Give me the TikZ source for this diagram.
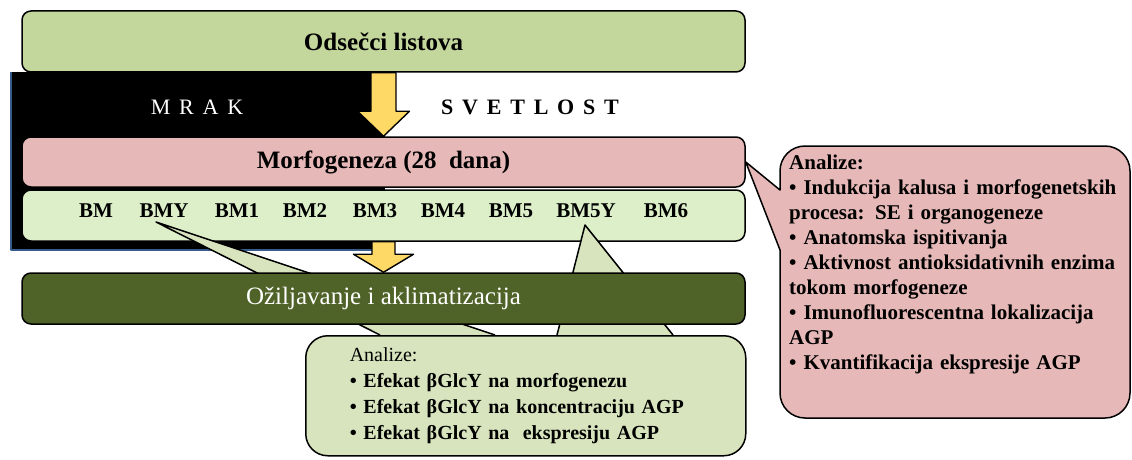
\documentclass[tikz,border=0pt]{standalone}
\usepackage{fontspec}
\setmainfont{Liberation Serif}
\newfontfamily\spacedfont[LetterSpace=40]{Liberation Serif}
\usetikzlibrary{calc,positioning}

\definecolor{leafgreen}{HTML}{C3D69B}
\definecolor{morfpink}{HTML}{E6B9B8}
\definecolor{bmgreen}{HTML}{DCEFC8}
\definecolor{rootgreen}{HTML}{4F6228}
\definecolor{callgreen}{HTML}{D7E4BD}
\definecolor{arrowyellow}{HTML}{FFD966}
\definecolor{darkblue}{HTML}{385D8A}

\tikzset{
  stagebox/.style={draw=black, line width=1.5pt, rounded corners=9pt, minimum width=723pt, inner sep=0pt},
  stagetext/.style={font=\bfseries\fontsize{25}{30}\selectfont},
  bmlabel/.style={font=\bfseries\fontsize{21}{25}\selectfont, inner sep=0pt},
  pointer/.style={draw=black, line width=1.5pt, fill=callgreen},
  bubble/.style={draw=black, line width=1.5pt, rounded corners=22pt},
  lighttext/.style={inner sep=0pt, font=\spacedfont\fontsize{22}{26}\selectfont},
  lightbold/.style={inner sep=0pt, font=\spacedfont\bfseries\fontsize{22}{26}\selectfont},
}

\begin{document}
\begin{tikzpicture}[x=1pt, y=1pt, line join=round]
  \useasboundingbox (0,0) rectangle (1132,459);

  % #1 is start
  % #2 is tip
  % #3 is half shaft, #4 is half head, #5 is head length
  \newcommand{\blockarrow}[5]{
    \path[draw=black, line width=1.4pt, fill=arrowyellow]
      ($(#1)+(-#3,0)$) -- ($(#2)+(-#3,#5)$) -- ($(#2)+(-#4,#5)$) -- (#2)
      -- ($(#2)+(#4,#5)$) -- ($(#2)+(#3,#5)$) -- ($(#1)+(#3,0)$) -- cycle;
  }

  % dark side
  \fill[black] (11,209) rectangle (385,387);
  \draw[darkblue, line width=2.5pt] (11,387) -- (11,209) -- (385,209);

  \node[stagebox, stagetext, fill=leafgreen, minimum height=61pt] (odsecci) at (383.5,417.5) {Odsečci listova};
  \node[stagebox, stagetext, fill=morfpink, minimum height=50pt] (morf) at (383.5,297) {Morfogeneza (28~ dana)};
  \node[stagebox, fill=bmgreen, minimum height=51pt] (bmrow) at (383.5,243.5) {};

  \node[bmlabel] (bm) at (96,248) {BM};
  \node[bmlabel] (bmy) at (164,248) {BMY};
  \node[bmlabel] (bm1) at (237,248) {BM1};
  \node[bmlabel] (bm2) at (305,248) {BM2};
  \node[bmlabel] (bm3) at (375,248) {BM3};
  \node[bmlabel] (bm4) at (443,248) {BM4};
  \node[bmlabel] (bm5) at (511,248) {BM5};
  \node[bmlabel] (bm5y) at (586,248) {BM5Y};
  \node[bmlabel] (bm6) at (666,248) {BM6};

  \blockarrow{odsecci.south}{morf.north}{12.5}{26}{25}

  % pointers of the lower callout
  \coordinate (calloutB) at (305,124);
  \path[pointer] ($(calloutB)+(75,0)$) -- ($(bmy.center)+(-8,-11)$) -- ($(calloutB)+(190,0)$);
  \path[pointer] ($(calloutB)+(252,0)$) -- ($(bm5y.center)+(-1,-14)$) -- ($(calloutB)+(368,0)$);

  \node[bubble, fill=callgreen, anchor=north west, minimum width=440pt, minimum height=120pt,
        text width=352pt, inner xsep=44pt, inner ysep=0pt, align=left,
        font=\fontsize{20}{26}\selectfont] (analyseB) at (calloutB)
    {Analize:\\
     {\bfseries \textbullet{} Efekat βGlcY na morfogenezu}\\
     {\bfseries \textbullet{} Efekat βGlcY na koncentraciju AGP}\\
     {\bfseries \textbullet{} Efekat βGlcY na~ ekspresiju AGP}};

  \node[stagebox, fill=rootgreen, minimum height=51pt, text=white,
        font=\fontsize{25}{30}\selectfont] (rooting) at (383.5,160.5) {Ožiljavanje i aklimatizacija};

  \blockarrow{bmrow.south}{rooting.north}{11.5}{30}{18}

  % right callout
  \path[draw=black, line width=1.5pt, fill=morfpink]
    (morf.east) -- (780,269) -- (780,288) arc[start angle=180, end angle=90, radius=25]
    -- (1105,313) arc[start angle=90, end angle=0, radius=25]
    -- (1130,66) arc[start angle=0, end angle=-90, radius=25]
    -- (805,41) arc[start angle=-90, end angle=-180, radius=25]
    -- (780,209) -- cycle;

  \node[anchor=north west, inner sep=0pt, text width=337pt, align=left,
        font=\bfseries\fontsize{21}{25}\selectfont] (analyseR) at (789,304)
    {Analize:\\
     \makebox[337pt][s]{\textbullet{} Indukcija kalusa i morfogenetskih}\\
     procesa: SE i organogeneze\\
     \textbullet{} Anatomska ispitivanja\\
     \makebox[337pt][s]{\textbullet{} Aktivnost antioksidativnih enzima}\\
     tokom morfogeneze\\
     \makebox[337pt][s]{\textbullet{} Imunofluorescentna lokalizacija}\\
     AGP\\
     \textbullet{} Kvantifikacija ekspresije AGP};

  \node[lighttext, text=white] (mrak) at (197,352) {MRAK};
  \node[lightbold] (svetlost) at (530,352) {SVETLOST};

\end{tikzpicture}
\end{document}
